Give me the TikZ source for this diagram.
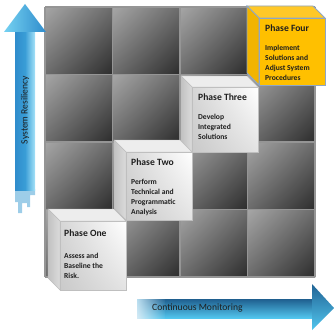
\documentclass[tikz,border=0pt]{standalone}
\usepackage{fontspec}
\setmainfont{Carlito}
\usetikzlibrary{shadings}
\definecolor{cellA}{HTML}{A6A6A6}
\definecolor{cellB}{HTML}{6C6C6C}
\definecolor{cellC}{HTML}{2C2C2C}
\definecolor{gridln}{HTML}{959595}
\definecolor{phorange}{HTML}{FFC000}
\definecolor{phorangeT}{HTML}{FFC828}
\definecolor{phorangeL}{HTML}{F2B400}
\definecolor{phedge}{HTML}{8EA6C6}
\definecolor{bluedark}{HTML}{1F5F8F}
\definecolor{bluemid}{HTML}{2F8CCC}
\definecolor{bluelight}{HTML}{52C6EE}
\definecolor{bluepale}{HTML}{A5E2F8}
\definecolor{bluefade}{HTML}{B8DDEF}
\definecolor{txtdark}{HTML}{1E1E1E}
\newcommand{\phcube}[8]{%
  \path[#6] (#1-#5,#2+#4+#5) -- (#1+#3-#5,#2+#4+#5) -- (#1+#3,#2+#4) -- (#1,#2+#4) -- cycle;
  \path[#7] (#1-#5,#2+#4+#5) -- (#1,#2+#4) -- (#1,#2) -- (#1-#5,#2+#5) -- cycle;
  \path[#8] (#1,#2) rectangle (#1+#3,#2+#4);
}
\begin{document}
\begin{tikzpicture}[x=1pt,y=1pt,
  gridline/.style={draw=gridln, line width=1.2pt},
  cubetop/.style={fill=gray!14, draw=gray!50, line width=0.4pt},
  cubeleft/.style={left color=gray!48, right color=gray!28, draw=gray!50, line width=0.4pt},
  cubefront/.style={shade, upper left=gray!32, upper right=white, lower left=gray!42, lower right=gray!22, draw=gray!50, line width=0.4pt},
  orgtop/.style={fill=phorangeT, draw=phedge, line width=0.9pt},
  orgleft/.style={fill=phorangeL, draw=phedge, line width=0.9pt},
  orgfront/.style={fill=phorange, draw=phedge, line width=0.9pt},
  titletext/.style={font=\bfseries\fontsize{9.6}{11}\selectfont, text=txtdark, inner sep=0pt, anchor=north west},
  bodytext/.style={font=\bfseries\fontsize{7.6}{10}\selectfont, text=txtdark, inner sep=0pt, anchor=north west, align=left},
  arrowtext/.style={font=\fontsize{9.6}{11}\selectfont, text=txtdark, inner sep=0pt},
]
\useasboundingbox (0,0) rectangle (334,330);

% grid cells
\foreach \i in {0,...,3}{\foreach \j in {0,...,3}{
  \shade[upper left=cellA, upper right=cellB, lower left=cellB, lower right=cellC]
    ({45+67.5*\i},{53+67.5*\j}) rectangle ++(67.5,67.5);
}}
\foreach \k in {0,...,4}{
  \draw[gridline] ({45+67.5*\k},53) -- ({45+67.5*\k},323);
  \draw[gridline] (45,{53+67.5*\k}) -- (315,{53+67.5*\k});
}

% cubes
\phcube{259}{245}{66}{67}{12}{orgtop}{orgleft}{orgfront}
\phcube{192}{178}{66}{65}{11}{cubetop}{cubeleft}{cubefront}
\phcube{126}{110}{66}{68}{12}{cubetop}{cubeleft}{cubefront}
\phcube{60}{40}{66}{69}{12}{cubetop}{cubeleft}{cubefront}

\node[titletext] (p4t) at (265,305) {Phase Four};
\node[bodytext] (p4b) at (265,285) {Implement\\Solutions and\\Adjust System\\Procedures};
\node[titletext] (p3t) at (198,236) {Phase Three};
\node[bodytext] (p3b) at (198,216) {Develop\\Integrated\\Solutions};
\node[titletext] (p2t) at (131,171) {Phase Two};
\node[bodytext] (p2b) at (131,151) {Perform\\Technical and\\Programmatic\\Analysis};
\node[titletext] (p1t) at (64,100) {Phase One};
\node[bodytext] (p1b) at (64,77) {Assess and\\Baseline the\\Risk.};

% vertical arrow
\fill[bluefade!80!bluemid] (15,141) -- (15,128) -- (18,128) -- (18,117) -- (22,117) -- (22,127) -- (27,127) -- (27,123) -- (30,123) -- (30,135) -- (35,135) -- (35,141) -- cycle;
\shade[shading=axis, left color=bluemid, right color=bluepale, middle color=bluemid!70!bluelight] (15,140) rectangle (35,298);
\shade[left color=bluelight!80!white, right color=bluemid] (4,298) -- (25,326) -- (46,298) -- cycle;
\node[arrowtext, rotate=90] (sr) at (25,220) {System Resiliency};

% horizontal arrow
\shade[upper left=bluefade, lower left=bluefade!60!white, upper right=bluedark, lower right=bluelight] (137,12) rectangle (166,31);
\shade[top color=bluedark, bottom color=bluelight] (165.5,12) rectangle (313,31);
\shade[top color=bluedark!90!bluemid, bottom color=bluelight] (312,46) -- (334,22) -- (312,0) -- cycle;
\node[arrowtext, anchor=west] (cm) at (152,22) {Continuous Monitoring};
\end{tikzpicture}
\end{document}
